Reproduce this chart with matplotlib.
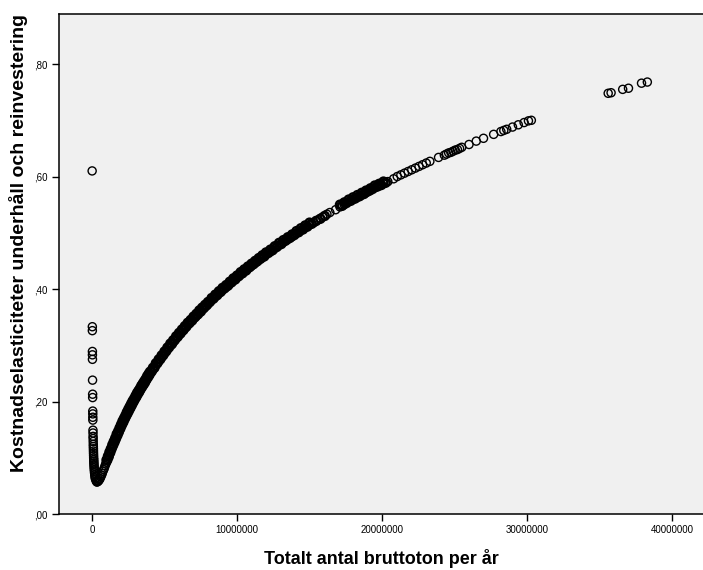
import matplotlib
matplotlib.use('Agg')
import matplotlib.pyplot as plt
import numpy as np

plt.rcParams['font.family'] = ['Liberation Sans', 'DejaVu Sans']

# punkter nara x=0 (mycket sma fartygsvolymer), x i miljoner bruttoton
x_vanster = [0.006, 0.019, 0.020, 0.024, 0.025, 0.027, 0.034, 0.040, 0.041, 0.048,
             0.050, 0.052, 0.054, 0.063, 0.066, 0.070, 0.075, 0.079, 0.084, 0.088,
             0.093, 0.097, 0.101, 0.106, 0.111, 0.116, 0.121, 0.126, 0.132, 0.139,
             0.146, 0.154, 0.163, 0.173, 0.187, 0.200, 0.220, 0.240, 0.280, 0.330]
y_vanster = [0.610, 0.333, 0.326, 0.289, 0.283, 0.275, 0.238, 0.213, 0.207, 0.183,
             0.178, 0.172, 0.167, 0.149, 0.144, 0.138, 0.134, 0.129, 0.124, 0.120,
             0.116, 0.112, 0.108, 0.104, 0.100, 0.097, 0.094, 0.091, 0.088, 0.085,
             0.082, 0.079, 0.076, 0.073, 0.070, 0.067, 0.064, 0.062, 0.059, 0.057]

# huvudkurvan
x_kurva = [0.35, 0.40, 0.45, 0.50, 0.55, 0.60, 0.65, 0.70, 0.75, 0.80, 0.85, 0.90, 0.95,
           1.0, 1.1, 1.2, 1.3, 1.4, 1.5, 1.6, 1.7, 1.8, 1.9, 2.0, 2.1, 2.2, 2.3, 2.4,
           2.5, 2.6, 2.7, 2.8, 2.9, 3.0, 3.1, 3.2, 3.3, 3.4, 3.5, 3.6, 3.7, 3.8, 3.9,
           4.0, 4.2, 4.4, 4.6, 4.8, 5.0, 5.2, 5.4, 5.6, 5.8, 6.0, 6.2, 6.4, 6.6, 6.8,
           7.0, 7.2, 7.4, 7.6, 7.8, 8.0, 8.25, 8.5, 8.75, 9.0, 9.25, 9.5, 9.75, 10.0,
           10.25, 10.5, 10.75, 11.0, 11.25, 11.5, 11.75, 12.0, 12.3, 12.6, 12.9, 13.2,
           13.5, 13.8, 14.1, 14.4, 14.7, 15.0, 15.3, 15.6, 15.9, 16.2, 16.4, 16.8,
           17.1, 17.4, 17.7, 18.0, 18.3, 18.6, 18.9, 19.2, 19.5, 19.8, 20.1, 20.4,
           20.8, 21.3, 21.8, 22.3, 22.8, 23.3, 23.9, 24.3, 24.6, 24.9, 25.2, 25.5,
           26.0, 26.5, 27.0, 27.7, 28.2, 28.6, 29.0, 29.4, 29.8, 30.3,
           21.05, 21.55, 22.05, 22.55, 23.05, 24.45, 24.75, 25.05, 25.35, 28.4, 30.1]
y_kurva = [0.057, 0.058, 0.059, 0.061, 0.063, 0.066, 0.069, 0.072, 0.076, 0.079, 0.082, 0.086, 0.089,
           0.092, 0.099, 0.106, 0.112, 0.119, 0.125, 0.131, 0.138, 0.143, 0.149, 0.155, 0.161, 0.166, 0.171, 0.177,
           0.182, 0.187, 0.192, 0.197, 0.201, 0.206, 0.211, 0.215, 0.219, 0.224, 0.228, 0.232, 0.236, 0.241, 0.245,
           0.249, 0.256, 0.264, 0.271, 0.278, 0.285, 0.292, 0.299, 0.305, 0.312, 0.318, 0.324, 0.330, 0.336, 0.341,
           0.347, 0.352, 0.358, 0.363, 0.368, 0.373, 0.380, 0.386, 0.392, 0.398, 0.403, 0.409, 0.415, 0.420,
           0.426, 0.431, 0.436, 0.441, 0.446, 0.451, 0.456, 0.461, 0.466, 0.472, 0.478, 0.483,
           0.488, 0.493, 0.499, 0.504, 0.509, 0.514, 0.518, 0.523, 0.528, 0.533, 0.536, 0.541,
           0.546, 0.550, 0.555, 0.559, 0.563, 0.567, 0.571, 0.575, 0.580, 0.583, 0.587, 0.591,
           0.596, 0.603, 0.609, 0.615, 0.621, 0.627, 0.634, 0.638, 0.642, 0.645, 0.648, 0.652,
           0.657, 0.663, 0.668, 0.675, 0.680, 0.684, 0.688, 0.692, 0.696, 0.700,
           0.600, 0.606, 0.612, 0.618, 0.624, 0.640, 0.643, 0.647, 0.650, 0.682, 0.699]

# fler punkter mellan de ovan, dar kurvan ar helt svart
x_mellan = [1.05, 1.15, 1.25, 1.35, 1.45, 1.55, 1.65, 1.75, 1.85, 1.95, 2.05, 2.15,
            2.25, 2.35, 2.45, 2.55, 2.65, 2.75, 2.85, 2.95, 3.05, 3.15, 3.25, 3.35,
            3.45, 3.55, 3.65, 3.75, 3.85, 3.95, 4.1, 4.3, 4.5, 4.7, 4.9, 5.1, 5.3,
            5.5, 5.7, 5.9, 6.1, 6.3, 6.5, 6.7, 6.9, 7.1, 7.3, 7.5, 7.7, 7.9, 8.125,
            8.375, 8.625, 8.875, 9.125, 9.375, 9.625, 9.875, 10.125, 10.375, 10.625,
            10.875, 11.125, 11.375, 11.625, 11.875, 12.15, 12.45, 12.75, 13.05, 13.35,
            13.65, 13.95, 14.25, 14.55, 14.85, 15.15, 15.45, 15.75, 16.05, 17.25,
            17.55, 17.85, 18.15, 18.45, 18.75, 19.05, 19.35, 19.65, 19.95, 20.25]
y_mellan = [0.096, 0.102, 0.109, 0.116, 0.122, 0.128, 0.134, 0.140, 0.146, 0.152, 0.158, 0.163,
            0.169, 0.174, 0.179, 0.184, 0.189, 0.194, 0.199, 0.204, 0.208, 0.213, 0.217, 0.222,
            0.226, 0.230, 0.234, 0.239, 0.243, 0.247, 0.253, 0.260, 0.268, 0.275, 0.282, 0.289, 0.296,
            0.302, 0.309, 0.315, 0.321, 0.327, 0.333, 0.339, 0.344, 0.350, 0.355, 0.360, 0.366, 0.371, 0.377,
            0.383, 0.389, 0.395, 0.401, 0.406, 0.412, 0.417, 0.423, 0.428, 0.433,
            0.439, 0.444, 0.449, 0.454, 0.458, 0.464, 0.469, 0.475, 0.480, 0.486,
            0.491, 0.496, 0.501, 0.506, 0.511, 0.516, 0.521, 0.525, 0.530, 0.548,
            0.553, 0.557, 0.561, 0.565, 0.569, 0.574, 0.578, 0.582, 0.585, 0.589]

# punkter strax ovanfor kurvan (bandet ar bredare an en ring)
x_ovan = [1.0, 1.1, 1.2, 1.3, 1.4, 1.5, 1.6, 1.7, 1.8, 1.9, 2.0, 2.1, 2.2, 2.3, 2.4,
          2.5, 2.6, 2.7, 2.8, 2.9, 3.0, 3.1, 3.2, 3.3, 3.4, 3.5, 3.6, 3.7, 3.8, 3.9,
          4.0, 4.2, 4.4, 4.6, 4.8, 5.0, 5.2, 5.4, 5.6, 5.8, 6.0, 6.2, 6.4, 6.6, 6.8,
          7.0, 7.2, 7.4, 7.6, 7.8, 8.0, 8.25, 8.5, 8.75, 9.0, 9.25, 9.5, 9.75, 10.0,
          10.25, 10.5, 10.75, 11.0, 11.25, 11.5, 11.75, 12.0, 12.3, 12.6, 12.9, 13.2,
          13.5, 13.8, 14.1, 14.4, 14.7, 15.0, 17.1, 17.4, 17.7, 18.0, 18.3, 18.6,
          18.9, 19.2, 19.5, 19.8, 20.1]
y_ovan = [0.096, 0.103, 0.110, 0.116, 0.123, 0.129, 0.135, 0.142, 0.147, 0.153, 0.159, 0.165, 0.170, 0.175, 0.181,
          0.186, 0.191, 0.196, 0.201, 0.205, 0.210, 0.215, 0.219, 0.223, 0.228, 0.232, 0.236, 0.240, 0.245, 0.249,
          0.253, 0.260, 0.268, 0.275, 0.282, 0.289, 0.296, 0.303, 0.309, 0.316, 0.322, 0.328, 0.334, 0.340, 0.345,
          0.351, 0.356, 0.362, 0.367, 0.372, 0.377, 0.384, 0.390, 0.396, 0.402, 0.407, 0.413, 0.419, 0.424,
          0.430, 0.435, 0.440, 0.445, 0.450, 0.455, 0.460, 0.465, 0.470, 0.476, 0.482, 0.487,
          0.492, 0.497, 0.503, 0.508, 0.513, 0.518, 0.550, 0.554, 0.559, 0.563, 0.567, 0.571,
          0.575, 0.579, 0.584, 0.587, 0.591]

# de storsta hamnarna
x_hoger = [35.6, 35.8, 36.6, 37.0, 37.9, 38.3]
y_hoger = [0.748, 0.749, 0.755, 0.757, 0.766, 0.768]

x_ticks = [0, 10000000, 20000000, 30000000, 40000000]
y_ticks = [0.0, 0.2, 0.4, 0.6, 0.8]
y_ticklabels = [',00', ',20', ',40', ',60', ',80']

x_gles = np.array(x_vanster + x_kurva + x_hoger) * 1e6
y_gles = np.array(y_vanster + y_kurva + y_hoger)
x_tat = np.array(x_mellan + x_ovan) * 1e6
y_tat = np.array(y_mellan + y_ovan)

fig = plt.figure(figsize=(7.03, 5.70), dpi=100)
ax = fig.add_axes([59 / 703, 56 / 570, 644 / 703, 500 / 570])
ax.set_facecolor('#f0f0f0')

ax.scatter(x_gles, y_gles, s=34, facecolors='none', edgecolors='black', linewidths=1.0)
# tata omraden: ringarna flyter ihop till ett svart band
ax.scatter(x_tat, y_tat, s=34, facecolors='none', edgecolors='black', linewidths=1.7)

ax.set_xlim(-2.28e6, 42.14e6)
ax.set_ylim(0, 0.889)
ax.set_xticks(x_ticks)
ax.set_xticklabels([str(t) for t in x_ticks])
ax.set_yticks(y_ticks)
ax.set_yticklabels(y_ticklabels)
ax.tick_params(direction='out', length=5, width=1, labelsize=7, colors='black', pad=3)

for side in ['left', 'bottom', 'top']:
	ax.spines[side].set_linewidth(1.1)
ax.spines['right'].set_visible(False)

ax.set_xlabel('Totalt antal bruttoton per år', fontsize=13, fontweight='bold', labelpad=10)
ax.set_ylabel('Kostnadselasticiteter underhåll och reinvestering', fontsize=14, fontweight='bold')
ax.yaxis.set_label_coords(-0.048, 0.543)

fig.savefig('out.png', dpi=100)
